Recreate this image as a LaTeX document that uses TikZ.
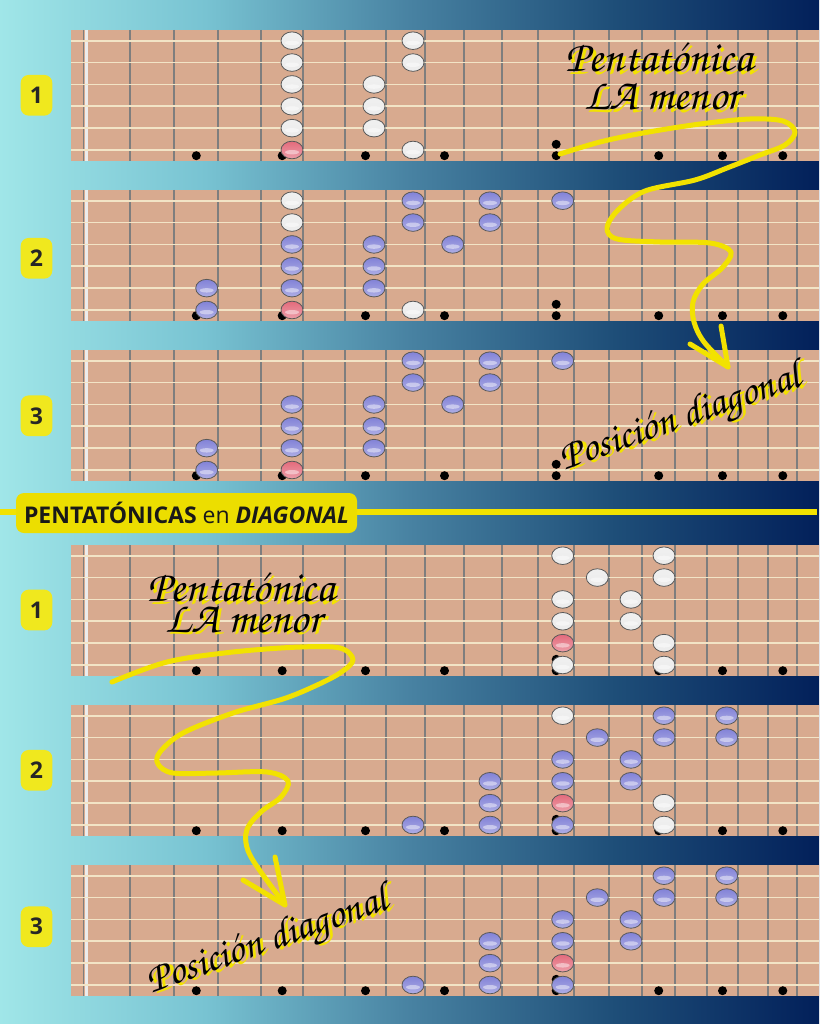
\documentclass[tikz,border=0pt]{standalone}
\usepackage[T1,TU]{fontenc}
\usepackage{fontspec}
\setmainfont{Open Sans}
\usepackage{xcolor}
\usepackage{tikz}

\definecolor{wood}{RGB}{216,170,143}
\definecolor{fretgray}{RGB}{126,126,126}
\definecolor{stringcream}{RGB}{242,228,198}
\definecolor{markyellow}{RGB}{240,232,30}
\definecolor{titleyellow}{RGB}{236,222,0}
\definecolor{lineyellow}{RGB}{242,226,0}
\definecolor{noteblue}{RGB}{108,108,208}
\definecolor{notered}{RGB}{222,80,100}

\pgfdeclarehorizontalshading{bgfade}{100bp}{rgb(0bp)=(0.627,0.902,0.910); rgb(25bp)=(0.627,0.902,0.910); rgb(37.5bp)=(0.471,0.765,0.824); rgb(50bp)=(0.282,0.510,0.635); rgb(62.5bp)=(0.118,0.306,0.471); rgb(75bp)=(0.008,0.125,0.353); rgb(100bp)=(0.008,0.125,0.353)}

\newcommand{\brushfont}{\fontencoding{T1}\fontfamily{pzc}\fontseries{mb}\fontshape{it}\selectfont}
\newcommand{\withshadow}[1]{\rlap{\hspace{3pt}\raisebox{-2.5pt}{\textcolor{lineyellow}{#1}}}#1}
\def\notex{{0,0,0,206.7,0,292,0,374,413,452.7,490,0,562.7,597.3,631,664,0,726.7}}

\newcommand{\putnotes}[2]{%
  \foreach \fr/\st/\kind in {#2} {
    \pgfmathsetmacro{\nx}{\notex[\fr]}
    \pgfmathsetmacro{\ny}{#1+10.7+21.86*(\st-1)}
    \draw[note,note\kind] (\nx,\ny) ellipse (11pt and 8.8pt);
    \fill[white,opacity=0.45] (\nx,\ny+2.2) ellipse (7pt and 2.2pt);
  }%
}

\begin{document}
\begin{tikzpicture}[x=1pt,y=-1pt,
    fret/.style={fretgray,line width=2pt},
    guitarstring/.style={stringcream,line width=1.8pt},
    note/.style={draw=black!65,line width=0.8pt},
    notew/.style={top color=gray!12,middle color=gray!40,bottom color=gray!15},
    noteb/.style={top color=noteblue!85!white,middle color=noteblue,bottom color=noteblue!55!white},
    noter/.style={top color=notered!85!white,middle color=notered,bottom color=notered!55!white},
    numbox/.style={fill=markyellow,rounded corners=8pt,minimum width=31.6pt,minimum height=40.7pt,inner sep=0pt,text=black!85,font=\fontsize{23}{23}\selectfont\bfseries},
    titlebox/.style={fill=titleyellow,rounded corners=8pt,minimum width=341pt,minimum height=40pt,inner sep=0pt,text=black!90,font=\fontsize{23}{23}\selectfont\bfseries},
    brush/.style={anchor=base,inner sep=0pt,font=\brushfont\fontsize{44}{44}\selectfont},
    arrowline/.style={lineyellow,line width=5pt,line cap=round,line join=round}]
  \useasboundingbox (0,0) rectangle (819,1024);
  \shade[shading=bgfade] (0,0) rectangle (819,1024);
  \foreach \t in {30,190,350,545,705,865} {
    \fill[wood] (71,\t) rectangle (819,\t+131);
    \foreach \fx in {129.7,174.3,218.3,261,303.3,345,386,425,464,501.7,538.3,574,609,642.3,675,706.7,738.3,768.3,797.3} {
      \draw[fret] (\fx,\t) -- (\fx,\t+131);
    }
    \draw[fretgray,line width=1.5pt] (83.5,\t) -- (83.5,\t+131);
    \draw[gray!15,line width=3pt] (86.5,\t) -- (86.5,\t+131);
    \foreach \i in {0,...,5} {
      \draw[guitarstring] (71,\t+10.7+21.86*\i) -- (819,\t+10.7+21.86*\i);
    }
    \foreach \dx in {196.3,282.2,365.5,444.5,556.2,658.7,722.5,782.8} {
      \fill (\dx,\t+125.7) circle (4.5pt);
    }
    \fill (556.2,\t+114.3) circle (4.5pt);
  }

  \putnotes{30}{5/1/w,5/2/w,5/3/w,5/4/w,5/5/w,5/6/r,7/3/w,7/4/w,7/5/w,8/1/w,8/2/w,8/6/w}
  \putnotes{190}{3/5/b,3/6/b,5/1/w,5/2/w,5/3/b,5/4/b,5/5/b,5/6/r,7/3/b,7/4/b,7/5/b,8/1/b,8/2/b,8/6/w,9/3/b,10/1/b,10/2/b,12/1/b}
  \putnotes{350}{3/5/b,3/6/b,5/3/b,5/4/b,5/5/b,5/6/r,7/3/b,7/4/b,7/5/b,8/1/b,8/2/b,9/3/b,10/1/b,10/2/b,12/1/b}
  \putnotes{545}{12/1/w,12/3/w,12/4/w,12/5/r,12/6/w,13/2/w,14/3/w,14/4/w,15/1/w,15/2/w,15/5/w,15/6/w}
  \putnotes{705}{8/6/b,10/4/b,10/5/b,10/6/b,12/1/w,12/3/b,12/4/b,12/5/r,12/6/b,13/2/b,14/3/b,14/4/b,15/1/b,15/2/b,15/5/w,15/6/w,17/1/b,17/2/b}
  \putnotes{865}{8/6/b,10/4/b,10/5/b,10/6/b,12/3/b,12/4/b,12/5/r,12/6/b,13/2/b,14/3/b,14/4/b,15/1/b,15/2/b,17/1/b,17/2/b}

  \foreach \n/\y [count=\k] in {1/95.3,2/258.3,3/415.8,1/610,2/770.3,3/926.7} {
    \node[numbox] (num\k) at (36.5,\y) {\n};
  }

  \draw[lineyellow,line width=6pt] (0,512) -- (817,512);
  \node[titlebox] (title) at (186.5,513) {PENTATÓNICAS {\mdseries en} {\itshape DIAGONAL}};

  \node[brush] (pentaA) at (659,72) {\withshadow{Pentat\'onica}};
  \node[brush] (menorA) at (662,110) {\withshadow{LA menor}};
  \node[brush] (pentaB) at (241,601.7) {\withshadow{Pentat\'onica}};
  \node[brush] (menorB) at (243.5,632) {\withshadow{LA menor}};
  \node[brush,font=\brushfont\fontsize{41}{41}\selectfont,rotate=19.5] (diagA) at (684,428) {\withshadow{Posici\'on diagonal}};
  \node[brush,font=\brushfont\fontsize{41}{41}\selectfont,rotate=19.5] (diagB) at (271,951) {\withshadow{Posici\'on diagonal}};

  \coordinate (tipA) at (728,367);
  \coordinate (tipB) at (285,905);
  \draw[arrowline] plot[smooth,tension=0.55] coordinates {(560,154) (600,142) (643,133) (700,124) (750,119) (783,121) (795,132) (785,145) (760,155) (727,168) (695,180) (645,191) (618,210) (607,228) (617,239) (660,242) (710,243) (731,252) (722,268) (703,284) (693,302) (694,322) (704,342) (728,367)};
  \draw[arrowline] (690,344) -- (tipA) -- (721,326);
  \draw[arrowline] plot[smooth,tension=0.55] coordinates {(112,682) (167,662) (233,652) (300,647) (340,648) (353,660) (340,673) (315,686) (283,699) (233,713) (183,733) (160,752) (158,764) (173,773) (217,773) (267,772) (288,781) (281,797) (262,811) (248,827) (246,843) (254,862) (285,905)};
  \draw[arrowline] (243,880) -- (tipB) -- (275,857);
\end{tikzpicture}
\end{document}
